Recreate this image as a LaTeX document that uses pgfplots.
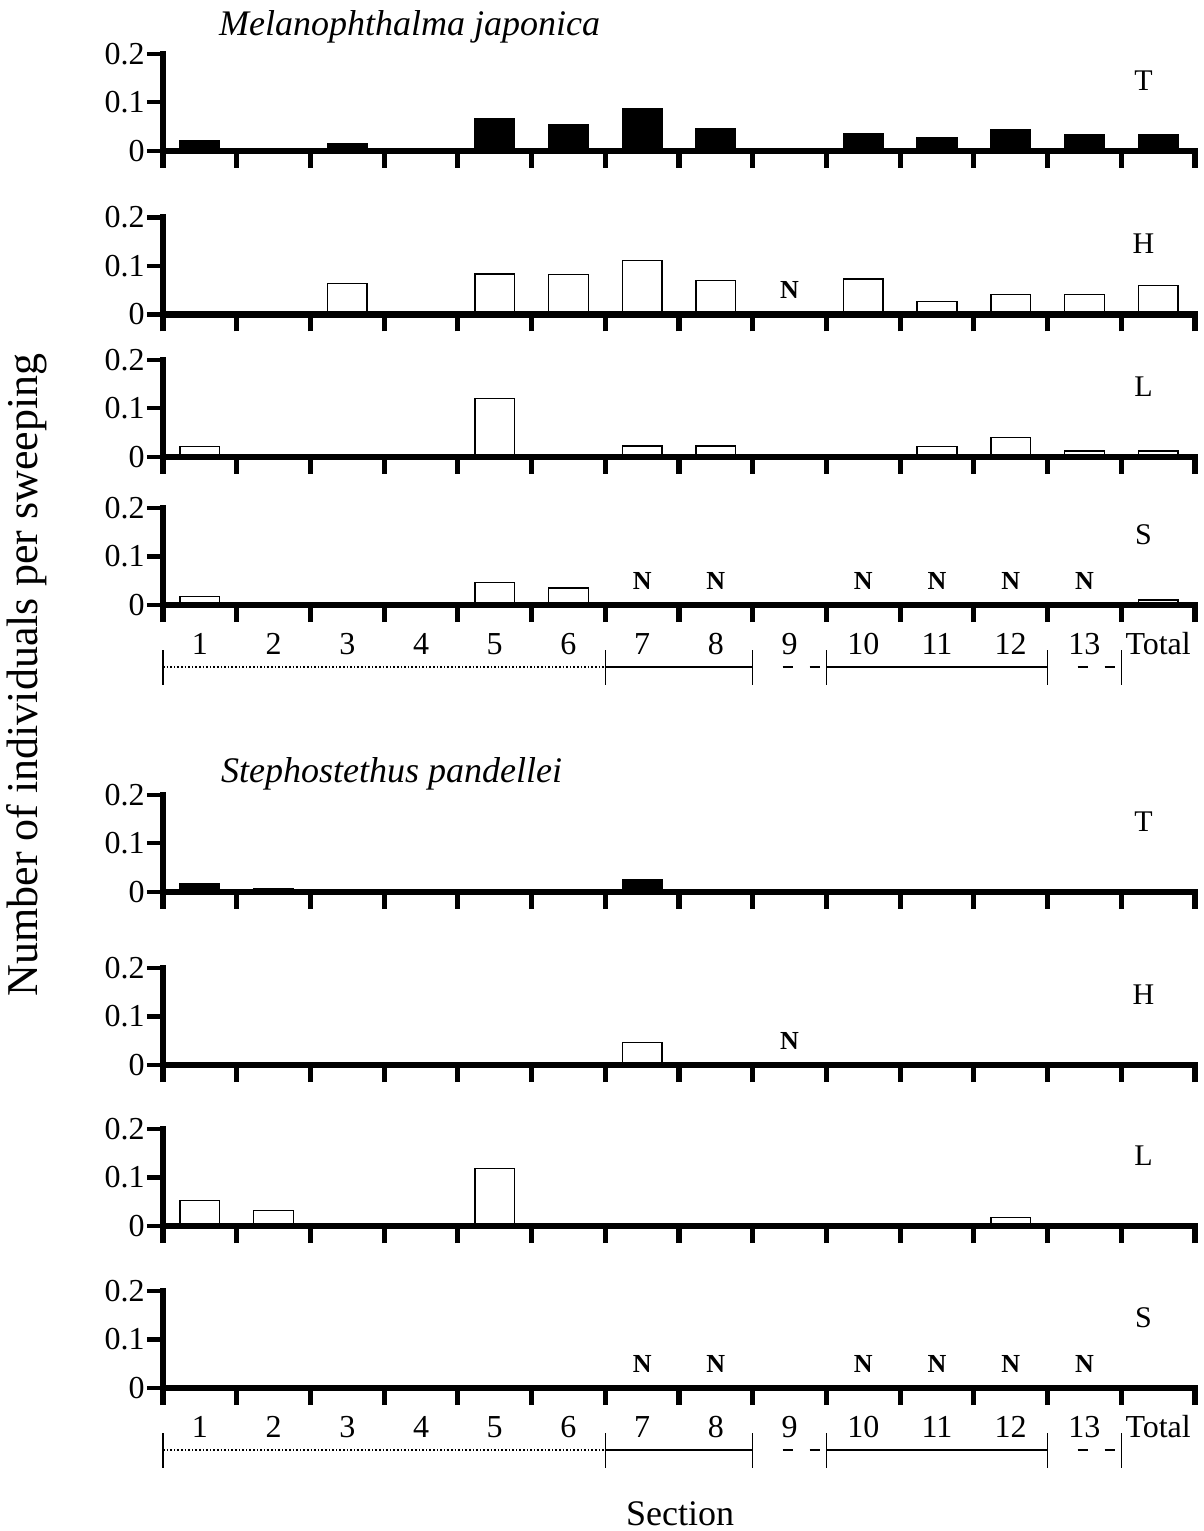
\documentclass[border=0pt]{standalone}
\usepackage{fontspec}
\setmainfont{Liberation Serif}
\usepackage{pgfplots}
\pgfplotsset{compat=1.18}
\usepackage{pgfplotstable}

% Melanophthalma japonica (x = section, 14 = Total)
\pgfplotstableread{
x T     H     L     S
1 0.021 0     0.021 0.017
2 0     0     0     0
3 0.014 0.064 0     0
4 0     0     0     0
5 0.067 0.083 0.120 0.047
6 0.053 0.082 0     0.035
7 0.086 0.111 0.022 0
8 0.045 0.070 0.022 0
9 0     0     0     0
10 0.036 0.073 0    0
11 0.027 0.027 0.021 0
12 0.043 0.041 0.039 0
13 0.032 0.041 0.012 0
14 0.033 0.060 0.012 0.010
}\mjdata

% Stephostethus pandellei
\pgfplotstableread{
x T     H     L     S
1 0.016 0     0.053 0
2 0.006 0     0.032 0
3 0     0     0     0
4 0     0     0     0
5 0.005 0     0.118 0
6 0     0     0     0
7 0.024 0.046 0     0
8 0     0     0     0
9 0     0     0     0
10 0    0     0     0
11 0    0     0     0
12 0.003 0    0.017 0
13 0    0     0     0
14 0.002 0.002 0.005 0
}\spdata

\newcommand\xlfont{\fontsize{16}{16}\selectfont}
\newcommand\ylfont{\fontsize{16}{16}\selectfont}
\newcommand\pfont{\fontsize{15}{15}\selectfont}
\newcommand\nfont{\fontsize{13}{13}\selectfont\bfseries}

\pgfplotsset{
  panel/.style={
    at={(81.5pt,#1)}, anchor=south west,
    scale only axis, width=516pt, height=48.5pt,
    xmin=0.5, xmax=14.5, ymin=0, ymax=0.2,
    axis x line*=bottom, axis y line*=left,
    axis line style={line width=3.2pt, line cap=rect},
    axis on top, clip=false,
    tick align=outside,
    major tick length=8pt, minor tick length=8.5pt,
    xtick={1,...,14}, xticklabels={},
    minor xtick={0.5,1.5,...,14.5},
    every major x tick/.style={draw=none},
    every minor x tick/.style={line width=2.6pt, black},
    ytick={0,0.1,0.2}, yticklabels={0,0.1,0.2},
    every major y tick/.style={line width=2.2pt, black},
    yticklabel style={font=\ylfont, inner sep=1pt},
    xticklabel style={font=\xlfont, anchor=base, yshift=-16.5pt},
    ybar, bar width=0.54,
  },
  labelled/.style={xticklabels={1,2,3,4,5,6,7,8,9,10,11,12,13,Total}},
  solidbar/.style={fill=black, draw=black, line width=0.7pt},
  openbar/.style={fill=white, draw=black, line width=0.7pt},
}

\newcommand\plet[1]{\node[font=\pfont] at (axis cs:13.8,0.145) {#1};}
\newcommand\nmark[1]{\node[font=\nfont] at (axis cs:#1,0.05) {N};}
\newcommand\nrow{\nmark{7}\nmark{8}\nmark{10}\nmark{11}\nmark{12}\nmark{13}}
\newcommand\vbar[1]{\draw[line width=0.6pt] ([yshift=-22.5pt]axis cs:#1,0) -- ([yshift=-40pt]axis cs:#1,0);}
\newcommand\dashes[1]{%
  \draw[line width=0.6pt] ([xshift=15pt,yshift=-31pt]axis cs:#1,0) -- ([xshift=20pt,yshift=-31pt]axis cs:#1,0);
  \draw[line width=0.6pt] ([xshift=28.5pt,yshift=-31pt]axis cs:#1,0) -- ([xshift=33.5pt,yshift=-31pt]axis cs:#1,0);}
\newcommand\brackets{%
  \draw[line width=0.8pt, densely dotted] ([yshift=-31pt]axis cs:0.5,0) -- ([yshift=-31pt]axis cs:6.5,0);
  \draw[line width=0.6pt] ([yshift=-31pt]axis cs:6.5,0) -- ([yshift=-31pt]axis cs:8.5,0);
  \draw[line width=0.6pt] ([yshift=-31pt]axis cs:9.5,0) -- ([yshift=-31pt]axis cs:12.5,0);
  \dashes{8.5}\dashes{12.5}%
  \vbar{0.5}\vbar{6.5}\vbar{8.5}\vbar{9.5}\vbar{12.5}\vbar{13.5}%
}

\begin{document}
\begin{tikzpicture}
\useasboundingbox (0,0) rectangle (602pt,-765.5pt);

\node[anchor=west, font=\fontsize{18}{18}\selectfont\itshape] at (106pt,-13.5pt) {Melanophthalma japonica};

% --- Melanophthalma japonica ---
\begin{axis}[panel={-75.35pt}]
\addplot[solidbar] table[x=x,y=T]{\mjdata};
\plet{T}
\end{axis}

\begin{axis}[panel={-157.15pt}]
\addplot[openbar] table[x=x,y=H]{\mjdata};
\plet{H}
\nmark{9}
\end{axis}

\begin{axis}[panel={-228.35pt}]
\addplot[openbar] table[x=x,y=L]{\mjdata};
\plet{L}
\end{axis}

\begin{axis}[panel={-302.5pt}, labelled]
\addplot[openbar] table[x=x,y=S]{\mjdata};
\plet{S}
\nrow
\brackets
\end{axis}

\node[anchor=west, font=\fontsize{18}{18}\selectfont\itshape] at (107pt,-387pt) {Stephostethus pandellei};

% --- Stephostethus pandellei ---
\begin{axis}[panel={-445.85pt}]
\addplot[solidbar] table[x=x,y=T]{\spdata};
\plet{T}
\end{axis}

\begin{axis}[panel={-532.5pt}]
\addplot[openbar] table[x=x,y=H]{\spdata};
\plet{H}
\nmark{9}
\end{axis}

\begin{axis}[panel={-613pt}]
\addplot[openbar] table[x=x,y=L]{\spdata};
\plet{L}
\end{axis}

\begin{axis}[panel={-694pt}, labelled]
\addplot[openbar] table[x=x,y=S]{\spdata};
\plet{S}
\nrow
\brackets
\end{axis}

\node[rotate=90, font=\fontsize{22}{22}\selectfont] at (13.5pt,-337.5pt) {Number of individuals per sweeping};
\node[inner sep=0pt, font=\fontsize{18}{18}\selectfont] at (340pt,-757pt) {Section};
\end{tikzpicture}
\end{document}
